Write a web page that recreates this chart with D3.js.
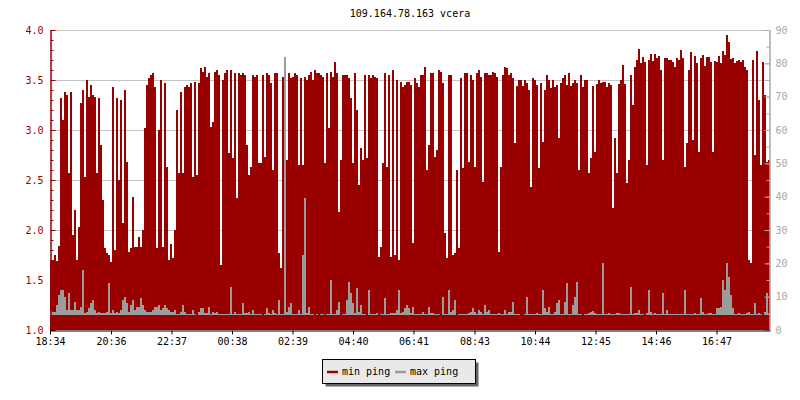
<!DOCTYPE html>
<html>
<head>
<meta charset="utf-8">
<script src="https://cdn.jsdelivr.net/npm/d3@7"></script>
<style>
body { margin: 0; background: #fff; }
svg { display: block; font-family: "DejaVu Sans Mono", monospace; font-size: 10px; }
</style>
</head>
<body>
<svg id="chart" width="800" height="400"></svg>
<script>
var title = "109.164.78.163 vcera";
var startTime = "2000-01-01 18:34";
var stepMinutes = 4;
var spanMinutes = 1440;
var seriesNames = ["min ping", "max ping"];
var tickLabels = ["18:34", "20:36", "22:37", "00:38", "02:39", "04:40", "06:41", "08:43", "10:44", "12:45", "14:46", "16:47"];
var leftTicks = [1.0, 1.5, 2.0, 2.5, 3.0, 3.5, 4.0];
var rightTicks = [0, 10, 20, 30, 40, 50, 60, 70, 80, 90];

// min ping (left axis), one value per 4 minutes
var minPing = [
  1.70,1.70,1.75,1.69,1.84,3.32,3.10,3.38,3.35,2.57,
  3.38,1.95,2.20,1.70,2.03,3.27,3.40,2.53,3.50,3.33,
  3.45,3.35,3.33,2.57,3.32,2.85,2.30,1.82,1.77,1.75,
  1.68,3.43,1.80,3.32,2.50,3.30,2.07,3.40,2.68,1.78,
  1.82,2.33,1.83,1.83,1.93,1.83,2.00,3.02,3.45,3.52,
  3.55,3.57,3.43,1.82,3.00,3.50,1.83,3.47,2.63,1.70,

  1.86,1.72,2.00,3.20,2.57,3.38,2.57,3.43,3.45,3.43,
  3.47,2.53,3.48,2.55,3.47,3.62,3.58,3.63,3.53,3.57,
  3.03,3.08,3.58,3.60,3.55,1.65,3.50,3.57,3.60,2.77,
  3.60,2.72,3.57,2.32,3.57,3.55,3.57,3.55,2.85,2.55,
  2.63,3.55,3.53,3.55,2.67,2.67,3.55,2.73,3.57,3.55,
  3.47,2.60,3.57,3.57,1.77,1.62,3.53,2.47,2.70,3.57,

  3.52,3.53,3.57,3.55,2.65,3.52,2.65,3.53,3.50,3.55,
  3.58,3.50,3.60,3.57,3.57,3.55,3.53,2.67,3.57,3.02,
  3.58,3.53,3.68,3.57,2.18,2.70,3.55,3.55,3.55,3.52,
  3.32,2.67,3.57,3.20,2.45,2.82,2.70,3.55,2.72,3.55,
  3.52,3.55,3.53,3.52,1.73,1.83,2.67,3.57,2.63,3.55,
  1.73,3.60,1.75,3.50,1.70,3.48,3.43,3.45,3.48,3.48,

  3.45,1.87,3.52,3.47,3.43,3.55,3.55,3.63,2.60,2.85,
  3.57,3.57,2.73,2.80,3.60,3.58,3.47,1.97,1.72,3.55,
  3.55,1.75,1.77,2.60,1.82,3.52,2.62,3.57,3.57,2.68,
  3.55,3.50,2.63,3.57,3.60,3.53,2.48,3.57,3.57,3.55,
  3.55,3.58,3.57,3.53,1.78,2.63,3.55,3.63,3.62,3.55,
  3.57,3.52,2.87,3.44,3.50,3.50,3.44,3.50,3.47,3.40,

  2.43,3.52,3.50,3.45,2.62,3.47,2.88,3.40,3.55,3.50,
  3.42,3.50,3.43,3.45,2.92,3.47,3.52,3.55,3.45,3.57,
  3.44,3.47,3.50,3.47,2.60,3.55,3.43,3.50,3.50,2.57,
  2.72,3.44,2.78,3.46,3.50,3.47,3.48,3.48,3.43,3.47,
  3.45,2.22,2.92,2.57,3.46,3.50,3.65,3.46,2.47,2.70,
  3.55,3.25,3.63,3.70,3.81,3.67,3.73,3.68,2.65,3.70,

  3.76,3.69,3.76,3.72,3.74,3.60,2.70,3.72,3.72,3.70,
  3.70,3.68,3.63,3.72,3.70,3.80,3.72,2.63,2.87,3.60,
  3.78,2.90,3.74,3.67,2.78,3.72,3.75,3.64,3.73,3.73,
  3.68,2.78,3.69,3.68,3.74,3.67,3.79,3.75,3.95,3.88,
  3.71,3.72,3.67,3.69,3.70,3.68,3.70,3.63,3.60,1.70,
  1.67,3.70,2.75,3.79,3.30,2.65,3.68,3.35,2.68,2.70
];

// max ping (right axis), one value per 4 minutes
var maxPing = [
  6,5.5,5.5,7.5,10.5,12,12,10,6,11,
  6,6,8.5,6,6,7,18,5,5.5,6.5,
  8,9,6,5,5.5,5,5,5,5.5,14,
  5,6,5,5.5,5,6,9,10,8,5.5,
  7.5,9,6,7,7,9.5,7.5,6,5.5,5.5,
  5.5,6,7,7,7.5,6,6.5,7.5,6.5,6,

  5.5,5.5,6,4.7,4.7,5.5,7.5,5.5,4.7,4.7,
  4.7,6,4.7,4.5,5.5,6.5,6.5,5,5,7,
  4.7,5.5,5,5.5,4.8,4.7,4.7,4.7,4.7,4.7,
  13,4.8,5.5,4.7,4.7,4.7,8,5,5,5.5,
  4.7,6,4.7,4.7,4.7,4.7,4.5,4.7,6.5,5,
  4.7,6,5,4.7,9,4.7,4.7,82,5.5,7,

  8,4.7,4.7,4.7,6,4.7,22.5,39.5,5,7,
  4.7,4.7,4.5,4.7,4.6,4.7,4.7,4.6,4.7,4.7,
  15,4.7,4.7,6,8.5,4.5,4.7,4.7,9,14.5,
  11,8,5,12.5,5.5,7.5,4.7,4.7,4.6,12,
  4.7,4.7,4.8,5,4.5,4.7,4.7,9.5,4.7,4.7,
  5,5,5.2,6,12,5,5.5,6.5,7.5,6.5,

  5,7,4.7,4.7,4.7,4.7,5.5,4.7,4.7,7,
  5,5,4.7,4.7,4.7,4.6,10,4.7,4.7,12,
  5.5,6,9,4.6,4.7,4.7,4.7,4.8,4.7,5,
  5.5,6.5,5.5,4.7,6,5.5,4.7,7.5,5.5,6,
  4.7,4.7,4.8,4.8,5.2,4.8,4.7,6,4.7,5.5,
  5.5,8.5,4.7,4.7,4.8,4.6,4.6,4.7,10,4.7,

  4.7,4.7,4.7,5,4.7,4.7,12,6.5,5.5,7,
  4.7,4.8,5.5,8,9,4.7,4.7,8.5,14,4.7,
  4.7,7.5,10,14.5,4.7,4.7,4.6,4.7,4.8,5,
  5.5,5.7,5,4.7,4.7,4.7,20,4.7,4.8,5.2,
  4.7,4.8,4.7,5.2,5,4.7,4.8,4.7,4.7,4.8,
  13,4.7,5,5,6,4.7,4.7,4.6,5,12,

  5.5,4.7,5.2,4.7,4.7,4.7,11,4.8,6,4.7,
  4.7,4.7,4.8,4.7,4.7,4.8,4.7,12,4.7,4.7,
  4.7,4.8,5,4.7,4.7,9.5,5.5,4.7,4.8,5,
  5,4.7,4.7,6.5,6.5,7,15,12,20,16,
  10.5,6.5,4.7,4.8,5,4.8,4.7,4.7,5,5.5,
  4.7,4.7,8,4.7,5,4.8,4.6,5.5,11,4.7
];
var maxFloor = 4.4;

var RED = "#990000", GREY = "#9c9c9c";

var svg = d3.select("#chart");
var parseTime = d3.timeParse("%Y-%m-%d %H:%M");
var t0 = parseTime(startTime);
var t1 = d3.timeMinute.offset(t0, spanMinutes);

var x = d3.scaleTime().domain([t0, t1]).range([50, 770]);
var yMin = d3.scaleLinear().domain([1, 4]).range([330, 30]);
var yMax = d3.scaleLinear().domain([0, 90]).range([330, 30]);

function toPoints(values) {
  var pts = values.map(function(v, i) {
    return {t: d3.timeMinute.offset(t0, i * stepMinutes), v: v};
  });
  pts.push({t: t1, v: values[values.length - 1]});
  return pts;
}

// grid
svg.append("g").selectAll("line")
  .data(leftTicks.slice(1))
  .join("line")
  .attr("x1", 50).attr("x2", 770)
  .attr("y1", function(d) { return Math.round(yMin(d)) + 0.5; })
  .attr("y2", function(d) { return Math.round(yMin(d)) + 0.5; })
  .attr("stroke", "#c4c4c4");

var minArea = d3.area()
  .curve(d3.curveStepAfter)
  .x(function(d) { return x(d.t); })
  .y0(yMin(1))
  .y1(function(d) { return yMin(d.v); });

var maxArea = d3.area()
  .curve(d3.curveStepAfter)
  .x(function(d) { return x(d.t); })
  .y0(yMax(maxFloor))
  .y1(function(d) { return yMax(d.v); });

svg.append("path")
  .datum(toPoints(minPing))
  .attr("d", minArea)
  .attr("fill", RED)
  .attr("shape-rendering", "crispEdges");

svg.append("path")
  .datum(toPoints(maxPing))
  .attr("d", maxArea)
  .attr("fill", GREY)
  .attr("shape-rendering", "crispEdges");

// left axis (min ping)
var gl = svg.append("g").attr("transform", "translate(50.5,0)");
gl.call(d3.axisLeft(yMin).tickValues(d3.range(10, 41).map(function(d) { return d / 10; }))
  .tickSizeInner(-3).tickSizeOuter(0).tickFormat(""));
gl.call(function(g) {
  g.append("g").call(d3.axisLeft(yMin).tickValues(leftTicks).tickSizeInner(-5).tickSizeOuter(0)
    .tickPadding(7).tickFormat(d3.format(".1f")));
});
gl.selectAll("path,line").attr("stroke", RED);
gl.selectAll("text").attr("fill", RED).style("font-size", "10px").style("font-family", "DejaVu Sans Mono, monospace");

// right axis (max ping)
var gr = svg.append("g").attr("transform", "translate(769.5,0)");
gr.call(d3.axisRight(yMax).tickValues(d3.range(0, 91, 5)).tickSizeInner(-3).tickSizeOuter(0).tickFormat(""));
gr.append("g").call(d3.axisRight(yMax).tickValues(rightTicks).tickSizeInner(-5).tickSizeOuter(0).tickPadding(6));
gr.selectAll("path,line").attr("stroke", "#a8a8a8");
gr.selectAll("text").attr("fill", "#a8a8a8").style("font-size", "10px").style("font-family", "DejaVu Sans Mono, monospace");

// bottom axis (time)
var tickDates = tickLabels.map(function(s) {
  var d = parseTime(startTime.slice(0, 10) + " " + s);
  if (d < t0) d = d3.timeDay.offset(d, 1);
  return d;
});
var gb = svg.append("g").attr("transform", "translate(0,330.5)");
gb.call(d3.axisBottom(x).tickValues(tickDates).tickFormat(d3.timeFormat("%H:%M"))
  .tickSizeInner(4).tickSizeOuter(0).tickPadding(3));
gb.selectAll("path,line").attr("stroke", "#000");
gb.selectAll("text").attr("fill", "#000").style("font-size", "10px").style("font-family", "DejaVu Sans Mono, monospace");

// title
svg.append("text")
  .attr("x", 410).attr("y", 17)
  .attr("text-anchor", "middle")
  .attr("fill", "#000")
  .text(title);

// legend
var lg = svg.append("g").attr("transform", "translate(322,359)");
lg.append("rect").attr("x", 3.5).attr("y", 3.5).attr("width", 153).attr("height", 24).attr("fill", "#666");
lg.append("rect").attr("x", 0.5).attr("y", 0.5).attr("width", 153).attr("height", 24)
  .attr("fill", "#e9e9e9").attr("stroke", "#000");
var items = lg.selectAll("g.item")
  .data(seriesNames)
  .join("g").attr("class", "item")
  .attr("transform", function(d, i) { return "translate(" + (5 + i * 68) + ",0)"; });
items.append("line")
  .attr("x1", 0).attr("x2", 11).attr("y1", 13).attr("y2", 13)
  .attr("stroke-width", 2.5)
  .attr("stroke", function(d, i) { return i === 0 ? RED : GREY; });
items.append("text")
  .attr("x", 15).attr("y", 16)
  .attr("fill", "#000")
  .text(function(d) { return d; });
</script>
</body>
</html>
